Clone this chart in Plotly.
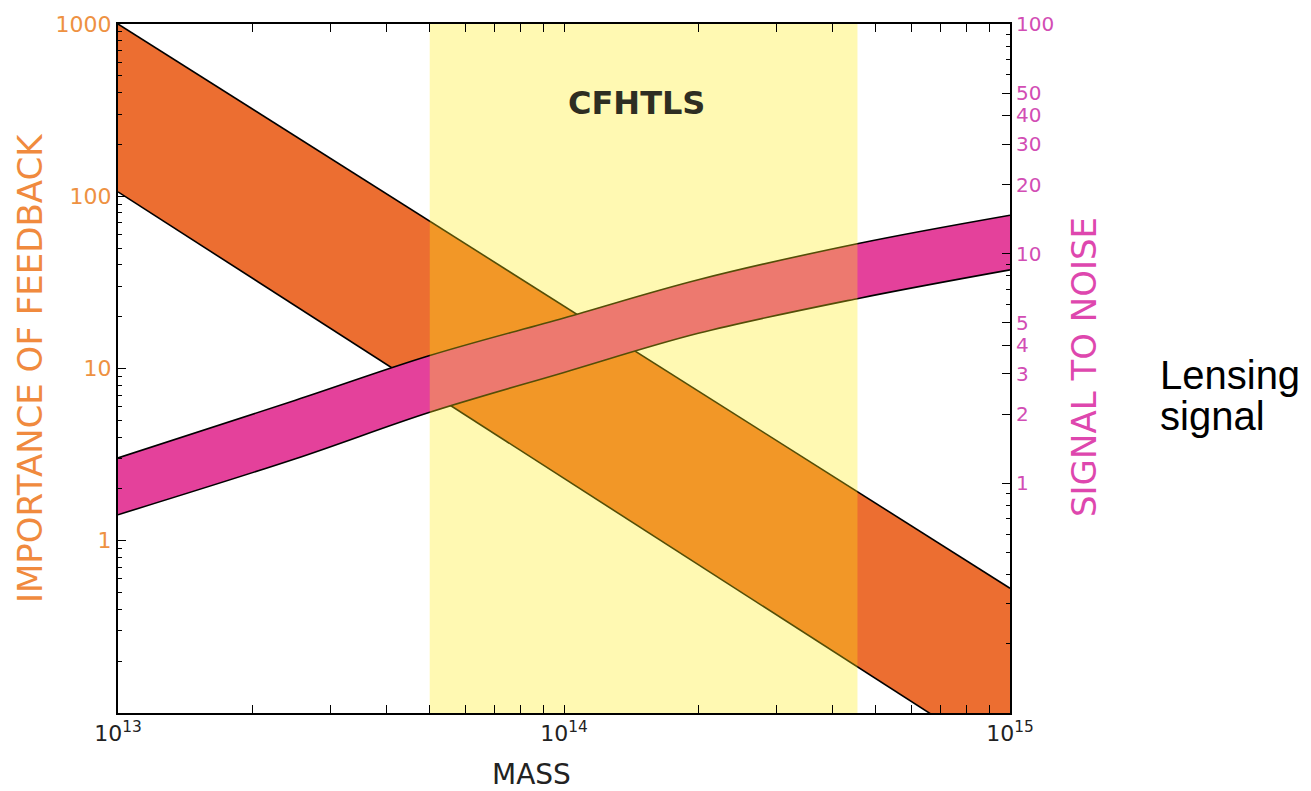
import plotly.graph_objects as go

# ---- data ----
mass_orange = [1e13, 1e14, 1e15]
feedback_upper = [1000, 23, 0.53]
feedback_lower = [106, 2.3, 0.05]

mass_pink = [1e13, 2.5e13, 5e13, 1e14, 2e14, 4.6e14, 1e15]
sn_upper = [1.29, 2.3, 3.6, 5.25, 7.7, 11.1, 14.7]
sn_lower = [0.73, 1.28, 2.04, 3.04, 4.5, 6.4, 8.5]

cfhtls_range = [5e13, 4.55e14]

left_ticks = [1, 10, 100, 1000]
left_minor = [m * 10 ** e for e in (-1, 0, 1, 2) for m in range(2, 10)]
right_ticks = [1, 2, 3, 4, 5, 10, 20, 30, 40, 50, 100]
right_minor = [m * 0.1 for m in range(2, 10)] + [6, 7, 8, 9, 60, 70, 80, 90]
x_ticks = [1e13, 1e14, 1e15]
x_ticktext = ["10<sup>13</sup>", "10<sup>14</sup>", "10<sup>15</sup>"]
x_minor = [m * 10 ** e for e in (13, 14) for m in range(2, 10)]

ORANGE = "#EC6E31"
PINK = "#E4419B"
YELLOW = "rgba(255,236,20,0.33)"
ORANGE_TXT = "#EE9142"
MAG_TXT = "#D24DB4"

W, H = 1311, 791
L, R, T, B = 118, 1010, 18, 713


def px(x):
    return (x - L) / (R - L)


def py(y):
    return (B - y) / (B - T)


fig = go.Figure()

# orange band (left axis)
fig.add_trace(go.Scatter(x=mass_orange, y=feedback_lower, mode="lines",
                         line=dict(color="black", width=1.6), yaxis="y",
                         showlegend=False, hoverinfo="skip"))
fig.add_trace(go.Scatter(x=mass_orange, y=feedback_upper, mode="lines",
                         fill="tonexty", fillcolor=ORANGE,
                         line=dict(color="black", width=1.6), yaxis="y",
                         showlegend=False, hoverinfo="skip"))

# pink band (right axis)
fig.add_trace(go.Scatter(x=mass_pink, y=sn_lower, mode="lines", line_shape="spline",
                         line=dict(color="black", width=1.6), yaxis="y2",
                         showlegend=False, hoverinfo="skip"))
fig.add_trace(go.Scatter(x=mass_pink, y=sn_upper, mode="lines", line_shape="spline",
                         fill="tonexty", fillcolor=PINK,
                         line=dict(color="black", width=1.6), yaxis="y2",
                         showlegend=False, hoverinfo="skip"))

# CFHTLS yellow band on top
fig.add_trace(go.Scatter(x=[cfhtls_range[0], cfhtls_range[0], cfhtls_range[1], cfhtls_range[1]],
                         y=[0.1, 100, 100, 0.1], mode="lines", fill="toself",
                         fillcolor=YELLOW, line=dict(width=0), yaxis="y2",
                         showlegend=False, hoverinfo="skip"))

fig.update_layout(
    width=W, height=H,
    margin=dict(l=L, r=W - R, t=T, b=H - B),
    paper_bgcolor="white", plot_bgcolor="white",
    font=dict(family="DejaVu Sans", color="black"),
    xaxis=dict(type="log", range=[13, 15], showgrid=False, zeroline=False,
               showline=True, linecolor="black", linewidth=2, mirror="allticks",
               ticks="inside", ticklen=8, tickwidth=1, tickcolor="black",
               tickvals=x_ticks, ticktext=x_ticktext,
               tickfont=dict(size=22, color="#222"),
               minor=dict(tickvals=x_minor, ticks="inside", ticklen=4,
                          tickcolor="black", showgrid=False)),
    yaxis=dict(type="log", range=[-1, 3], showgrid=False, zeroline=False,
               showline=True, linecolor="black", linewidth=2,
               ticks="inside", ticklen=8, tickwidth=1, tickcolor="black",
               tickvals=left_ticks, ticktext=[str(v) for v in left_ticks],
               tickfont=dict(size=22, color=ORANGE_TXT),
               minor=dict(tickvals=left_minor, ticks="inside", ticklen=4,
                          tickcolor="black", showgrid=False)),
    yaxis2=dict(type="log", range=[-1, 2], overlaying="y", side="right",
                showgrid=False, zeroline=False,
                showline=True, linecolor="black", linewidth=2,
                ticks="inside", ticklen=8, tickwidth=1, tickcolor="black",
                tickvals=right_ticks, ticktext=[str(v) for v in right_ticks],
                tickfont=dict(size=20, color=MAG_TXT),
                minor=dict(tickvals=right_minor, ticks="inside", ticklen=4,
                           tickcolor="black", showgrid=False)),
)

annotations = [
    dict(text="IMPORTANCE OF FEEDBACK", x=px(30), y=py(365), textangle=-90,
         font=dict(size=34, color="#F08A3E", family="DejaVu Sans")),
    dict(text="SIGNAL TO NOISE", x=px(1084), y=py(364), textangle=-90,
         font=dict(size=34, color="#DE47AE", family="DejaVu Sans")),
    dict(text="MASS", x=px(531), y=py(775),
         font=dict(size=28, color="#222", family="DejaVu Sans")),
    dict(text="<b>CFHTLS</b>", x=px(636), y=py(98),
         font=dict(size=32, color="#2E2E22", family="DejaVu Sans")),
    dict(text="Lensing", x=px(1158), y=py(372), xanchor="left",
         font=dict(size=40, color="black", family="Liberation Sans")),
    dict(text="signal", x=px(1158), y=py(413), xanchor="left",
         font=dict(size=40, color="black", family="Liberation Sans")),
]
for a in annotations:
    a.update(xref="paper", yref="paper", showarrow=False)
    a.setdefault("xanchor", "center")
    a.setdefault("yanchor", "middle")
fig.update_layout(annotations=annotations)

fig.write_html("out.html")
